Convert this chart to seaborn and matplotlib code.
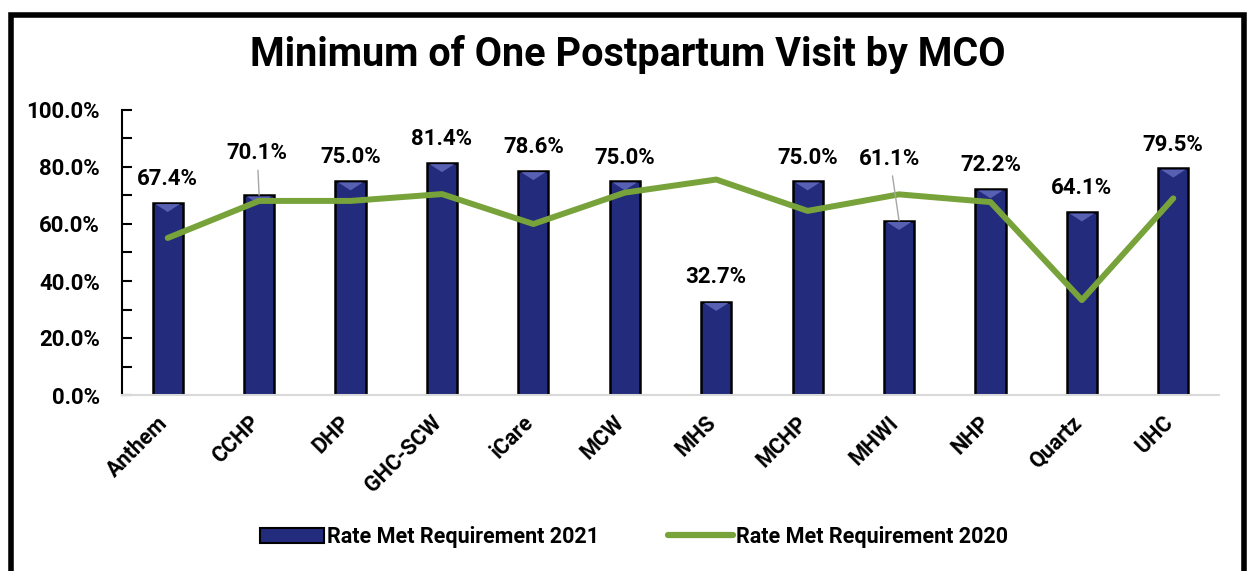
import pandas as pd
import matplotlib.pyplot as plt
import matplotlib.transforms as mtransforms
import seaborn as sns
from matplotlib.patches import Patch, Rectangle
from matplotlib.lines import Line2D
from matplotlib.ticker import MultipleLocator, FuncFormatter

# Datos
mcos = ["Anthem", "CCHP", "DHP", "GHC-SCW", "iCare", "MCW",
        "MHS", "MCHP", "MHWI", "NHP", "Quartz", "UHC"]
rate_2021 = [67.4, 70.1, 75.0, 81.4, 78.6, 75.0, 32.7, 75.0, 61.1, 72.2, 64.1, 79.5]
rate_2020 = [55.1, 68.1, 68.1, 70.5, 60.0, 71.0, 75.6, 64.6, 70.4, 67.7, 33.3, 69.0]

# Posición (px) de las etiquetas respecto al tope de la barra; algunas con línea guía
label_dy = [24, 42, 24, 24, 24, 23, 25, 23, 62, 24, 24, 23]
label_dx = [0, -2, 0, 0, 0, 0, 0, 0, -9, 0, 0, 0]
leader = [False, True, False, False, False, False, False, False, True, False, False, False]

df = pd.DataFrame({"MCO": mcos, "2021": rate_2021})

sns.set_style("white")
plt.rcParams["font.family"] = ["Roboto", "DejaVu Sans"]
plt.rcParams["font.weight"] = "bold"
plt.rcParams["text.color"] = "black"
plt.rcParams["xtick.color"] = "black"
plt.rcParams["ytick.color"] = "black"

BAR = "#232B7C"
BEVEL = "#5860B4"
GREEN = "#77A33A"

fig = plt.figure(figsize=(12.48, 5.71), dpi=100)
ax = fig.add_axes([122 / 1248, 1 - 395 / 571, (1219 - 122) / 1248, (395 - 110) / 571])

sns.barplot(data=df, x="MCO", y="2021", order=mcos, color=BAR, width=0.33,
            edgecolor="black", linewidth=1.8, saturation=1, ax=ax)

# pequeño bisel claro en el tope de cada barra (efecto del original)
for p in ax.patches:
    x0, w, h = p.get_x(), p.get_width(), p.get_height()
    ax.fill([x0 + 0.03, x0 + w - 0.03, x0 + w / 2], [h - 0.4, h - 0.4, h - 3.2],
            color=BEVEL, lw=0, zorder=3)

ax.plot(range(len(mcos)), rate_2020, color=GREEN, lw=4.3, solid_capstyle="round",
        solid_joinstyle="round", zorder=5)

for i, v in enumerate(rate_2021):
    props = dict(arrowstyle="-", color="#A6A6A6", lw=1, shrinkA=2, shrinkB=0) if leader[i] else None
    ax.annotate(f"{v:.1f}%", xy=(i, v), xytext=(label_dx[i], label_dy[i]),
                textcoords="offset pixels", ha="center", va="center",
                fontsize=16, fontweight="bold", arrowprops=props, zorder=6)

ax.set_xlim(-0.5, len(mcos) - 0.5)
ax.set_ylim(0, 100)
ax.yaxis.set_major_locator(MultipleLocator(20))
ax.yaxis.set_minor_locator(MultipleLocator(10))
ax.yaxis.set_major_formatter(FuncFormatter(lambda v, p: f"{v:.1f}%"))
ax.tick_params(axis="y", which="both", direction="in", length=7, width=1.5,
               pad=16, labelsize=16, left=True)
ax.tick_params(axis="x", length=0, pad=12, labelsize=15.5)
for lab in ax.get_yticklabels():
    lab.set_fontweight("bold")
shift = mtransforms.ScaledTranslation(-8 / 72, 0, fig.dpi_scale_trans)
for lab in ax.get_xticklabels():
    lab.set_rotation(45)
    lab.set_ha("right")
    lab.set_rotation_mode("anchor")
    lab.set_fontweight("bold")
    lab.set_transform(lab.get_transform() + shift)
ax.set_xlabel("")
ax.set_ylabel("")

sns.despine(ax=ax)
ax.spines["left"].set_color("black")
ax.spines["left"].set_linewidth(1.5)
ax.spines["bottom"].set_color("#D9D9D9")
ax.spines["bottom"].set_linewidth(1.5)

fig.text(0.503, 1 - 55 / 571, "Minimum of One Postpartum Visit by MCO",
         ha="center", va="center", fontsize=28.5, fontweight="bold")

handles = [Patch(facecolor=BAR, edgecolor="black", linewidth=1.5),
           Line2D([0], [0], color=GREEN, lw=4.5, solid_capstyle="round")]
fig.legend(handles, ["Rate Met Requirement 2021", "Rate Met Requirement 2020"],
           loc="center", bbox_to_anchor=(0.508, 1 - 537 / 571), ncol=2, frameon=False,
           handlelength=3.0, handletextpad=0.15, columnspacing=3.2,
           prop={"weight": "bold", "size": 15.5})

fig.patches.append(Rectangle((11 / 1248, -0.05), (1244 - 11) / 1248, 1 - 15 / 571 + 0.05,
                             transform=fig.transFigure, fill=False, edgecolor="black",
                             linewidth=4))

fig.savefig("out.png", dpi=100)
